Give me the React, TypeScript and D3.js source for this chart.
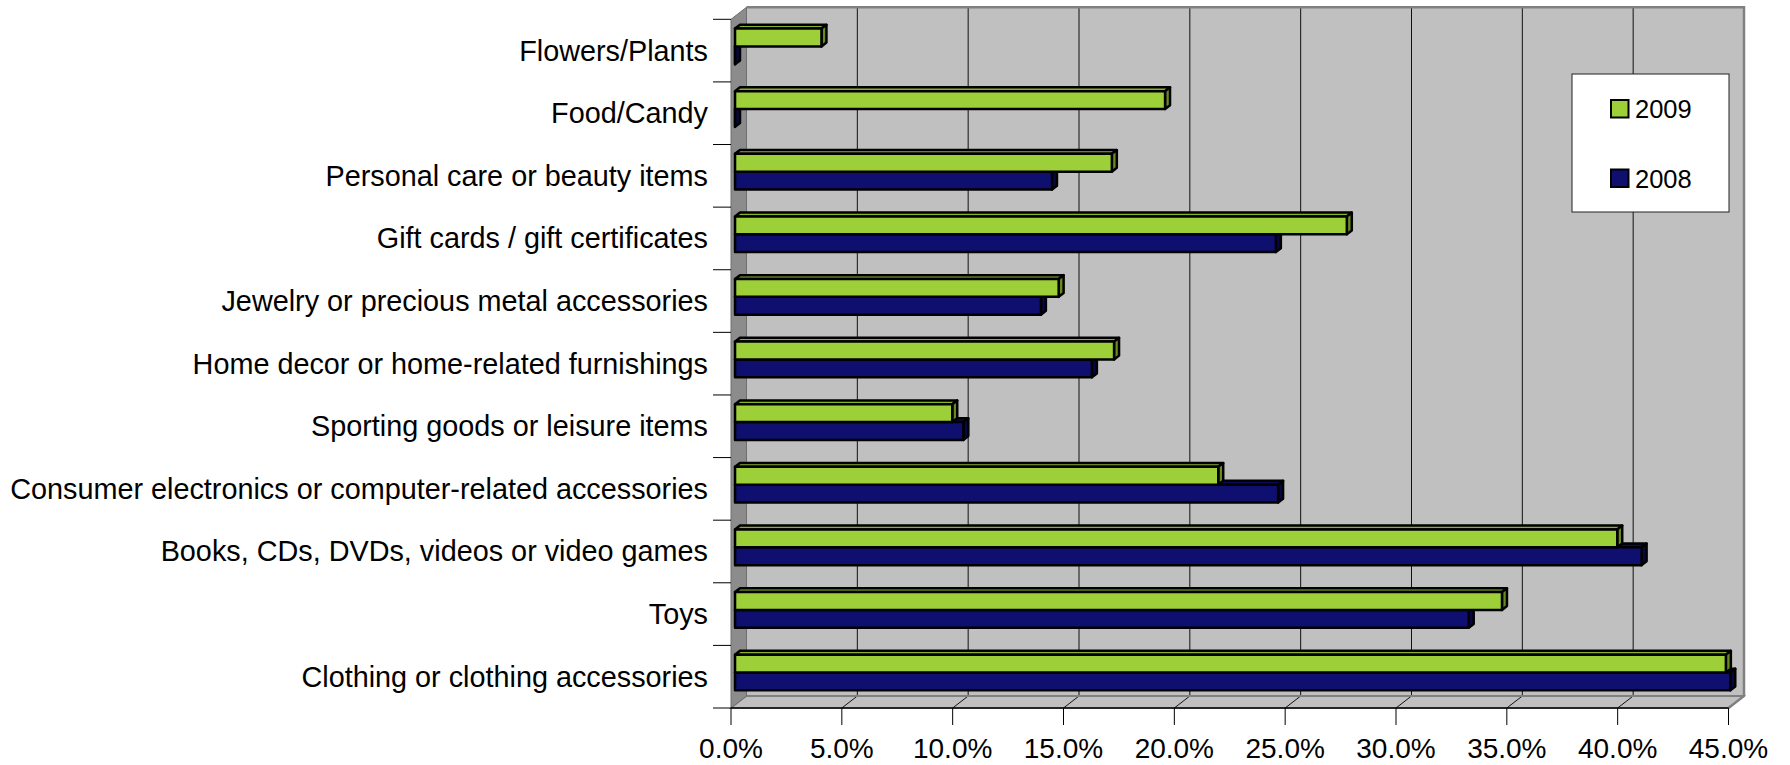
import React from "react";
import * as d3 from "d3";

const categories = [
  "Flowers/Plants",
  "Food/Candy",
  "Personal care or beauty items",
  "Gift cards / gift certificates",
  "Jewelry or precious metal accessories",
  "Home decor or home-related furnishings",
  "Sporting goods or leisure items",
  "Consumer electronics or computer-related accessories",
  "Books, CDs, DVDs, videos or video games",
  "Toys",
  "Clothing or clothing accessories",
];
const values2009 = [3.9, 19.4, 17.0, 27.6, 14.6, 17.1, 9.8, 21.8, 39.8, 34.6, 44.7];
const values2008 = [0, 0, 14.3, 24.4, 13.8, 16.1, 10.3, 24.5, 40.9, 33.1, 44.9];
const xTicks = [0, 5, 10, 15, 20, 25, 30, 35, 40, 45];
const legendItems = ["2009", "2008"];

const W = 1790;
const H = 765;
const FONT = "'Liberation Sans', Arial, Helvetica, sans-serif";

// geometry
const X0 = 731;
const X1 = 1728.5;
const Y0 = 19.3;
const Y1 = 708;
const DX = 15.5;
const DY = -12;
const TF = 0.26; // bar front depth fraction
const TB = 0.58; // bar back depth fraction

const GREEN = { front: "#9dcf38", top: "#86b22c", side: "#6a8c1e" };
const BLUE = { front: "#0f0f70", top: "#0b0b5c", side: "#070745" };

export default function App() {
  const x = d3.scaleLinear().domain([0, 45]).range([X0, X1]);
  const y = d3.scaleBand<string>().domain(categories).range([Y0, Y1]);
  const bw = y.bandwidth();
  const groupTop = 0.198 * bw;
  const barH = 0.285 * bw;

  const P = (v: number, yy: number, t: number) => [x(v) + t * DX, yy + t * DY];
  const pts = (arr: number[][]) => arr.map((p) => p.join(",")).join(" ");

  const bar = (v: number, yTop: number, c: typeof GREEN, key: string) => {
    const yBot = yTop + barH;
    const fTL = P(0, yTop, TF), fTR = P(v, yTop, TF), fBR = P(v, yBot, TF), fBL = P(0, yBot, TF);
    const bTL = P(0, yTop, TB), bTR = P(v, yTop, TB), bBR = P(v, yBot, TB);
    return (
      <g key={key} stroke="#000" strokeWidth={2.5} strokeLinejoin="round">
        <polygon points={pts([fTL, fTR, bTR, bTL])} fill={c.top} />
        <polygon points={pts([fTR, bTR, bBR, fBR])} fill={c.side} />
        <polygon points={pts([fTL, fTR, fBR, fBL])} fill={c.front} />
      </g>
    );
  };

  return (
    <svg
      width={W}
      height={H}
      style={{ position: "absolute", left: 0, top: 0, background: "#fff" }}
      fontFamily={FONT}
    >
      <rect x={0} y={0} width={W} height={H} fill="#fff" />
      {/* back wall */}
      <rect x={X0 + DX} y={Y0 + DY} width={X1 - X0} height={Y1 - Y0} fill="#c0c0c0" />
      {/* floor */}
      <polygon
        points={pts([[X0, Y1], [X1, Y1], [X1 + DX, Y1 + DY], [X0 + DX, Y1 + DY]])}
        fill="#c0c0c0"
        stroke="#808080"
        strokeWidth={1.5}
      />
      {/* gridlines on back wall and floor */}
      {xTicks.map((t) => (
        <g key={"g" + t}>
          {t > 0 && t < 45 && (
            <line x1={x(t) + DX} x2={x(t) + DX} y1={Y0 + DY} y2={Y1 + DY} stroke="#111" strokeWidth={1} />
          )}
          {t > 0 && (
            <line x1={x(t)} x2={x(t) + DX} y1={Y1} y2={Y1 + DY} stroke="#111" strokeWidth={1} />
          )}
        </g>
      ))}
      {/* back wall border top/right */}
      <polyline
        points={pts([[X0 + DX, Y0 + DY], [X1 + DX, Y0 + DY], [X1 + DX, Y1 + DY], [X1, Y1]])}
        fill="none"
        stroke="#808080"
        strokeWidth={2.5}
      />
      <line x1={X0 + DX} x2={X1 + DX} y1={Y1 + DY} y2={Y1 + DY} stroke="#808080" strokeWidth={2} />
      {/* side wall */}
      <polygon
        points={pts([[X0, Y0], [X0 + DX, Y0 + DY], [X0 + DX, Y1 + DY], [X0, Y1]])}
        fill="#8c8c8c"
        stroke="#6e6e6e"
        strokeWidth={1}
      />
      {/* bars */}
      {categories.map((c, i) => {
        const b0 = y(c)! + groupTop;
        return (
          <g key={c}>
            {bar(values2008[i], b0 + barH, BLUE, "b")}
            {bar(values2009[i], b0, GREEN, "g")}
          </g>
        );
      })}
      {/* x axis */}
      <line x1={X0} x2={X1} y1={Y1} y2={Y1} stroke="#000" strokeWidth={1.5} />
      {xTicks.map((t) => (
        <g key={"t" + t}>
          <line x1={x(t)} x2={x(t)} y1={Y1} y2={Y1 + 17} stroke="#000" strokeWidth={1} />
          <text x={x(t)} y={758} fontSize={28} textAnchor="middle" fill="#000">
            {t.toFixed(1) + "%"}
          </text>
        </g>
      ))}
      {/* category ticks & labels */}
      {[...categories.map((c) => y(c)!), Y1].map((yy, i) => (
        <line key={"ct" + i} x1={713} x2={X0} y1={yy} y2={yy} stroke="#000" strokeWidth={1} />
      ))}
      {categories.map((c) => (
        <text key={"l" + c} x={708} y={y(c)! + bw / 2 + 10} fontSize={28.8} textAnchor="end" fill="#000">
          {c}
        </text>
      ))}
      {/* legend */}
      <rect x={1572} y={74} width={157} height={138} fill="#fff" stroke="#222" strokeWidth={1} />
      {legendItems.map((l, i) => (
        <g key={l}>
          <rect
            x={1611}
            y={100 + i * 69.5}
            width={17.5}
            height={17.5}
            fill={i === 0 ? GREEN.front : BLUE.front}
            stroke="#000"
            strokeWidth={2}
          />
          <text x={1635} y={118 + i * 69.5} fontSize={25.5} fill="#000">
            {l}
          </text>
        </g>
      ))}
    </svg>
  );
}
